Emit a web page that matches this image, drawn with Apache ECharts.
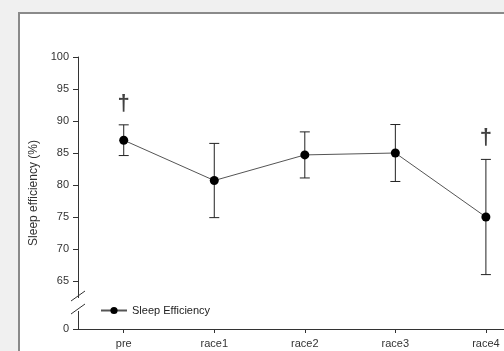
<!DOCTYPE html>
<html>
<head>
<meta charset="utf-8">
<script src="https://cdn.jsdelivr.net/npm/echarts@6/dist/echarts.min.js"></script>
<style>
html,body{margin:0;padding:0;background:#f0f0f0;}
#c{width:504px;height:351px;}
</style>
</head>
<body>
<div id="c"></div>
<script>
const categories = ['pre', 'race1', 'race2', 'race3', 'race4'];
const meanValues = [87.0, 80.7, 84.7, 85.0, 75.0];
const errorValues = [2.4, 5.8, 3.6, 4.45, 9.0];
const daggerPoints = [[0, 92.6], [4, 87.4]];
const yTickValues = [57.5, 65, 70, 75, 80, 85, 90, 95, 100];
const yBreakValue = 57.5;
const xIndexValues = categories.map((c, i) => i);

const chart = echarts.init(document.getElementById('c'), null, {renderer: 'canvas'});
const font = 'Liberation Sans, Arial, sans-serif';

const lineData = meanValues.map((v, i) => [i, v]);
const errData = categories.map((c, i) => [i, meanValues[i] - errorValues[i], meanValues[i] + errorValues[i]]);

chart.setOption({
  animation: false,
  backgroundColor: '#f0f0f0',
  textStyle: {fontFamily: font},
  grid: {left: 78, right: 0, top: 57, bottom: 22, containLabel: false},
  legend: {
    data: ['Sleep Efficiency'],
    left: 95, top: 300,
    itemWidth: 26, itemHeight: 9, itemGap: 6,
    textStyle: {fontSize: 11, color: '#222', fontFamily: font}
  },
  xAxis: {
    type: 'value',
    min: -0.505, max: 4.2,
    splitLine: {show: false},
    axisLine: {onZero: false, lineStyle: {color: '#333', width: 1}},
    axisTick: {length: 4, customValues: xIndexValues, lineStyle: {color: '#333'}},
    axisLabel: {
      fontSize: 11, color: '#333', margin: 9, fontFamily: font,
      customValues: xIndexValues,
      formatter: v => categories[Math.round(v)]
    }
  },
  yAxis: {
    type: 'value',
    min: yBreakValue, max: 100,
    name: 'Sleep efficiency (%)',
    nameLocation: 'middle',
    nameGap: 38,
    nameRotate: 90,
    nameTextStyle: {fontSize: 12, color: '#333', fontFamily: font},
    splitLine: {show: false},
    axisLine: {show: true, onZero: false, lineStyle: {color: '#333', width: 1}},
    axisTick: {show: true, length: 5, customValues: yTickValues, lineStyle: {color: '#333'}},
    axisLabel: {
      fontSize: 11, color: '#333', margin: 9, fontFamily: font,
      customValues: yTickValues,
      formatter: v => (v === yBreakValue ? '0' : String(v))
    }
  },
  series: [
    {
      name: 'Sleep Efficiency',
      type: 'line',
      data: lineData,
      symbol: 'circle',
      symbolSize: 9,
      itemStyle: {color: '#000'},
      lineStyle: {color: '#555', width: 1},
      clip: false,
      z: 3
    },
    {
      name: 'err',
      type: 'custom',
      data: errData,
      clip: false,
      z: 2,
      renderItem: function (params, api) {
        const x = api.value(0);
        const lo = api.coord([x, api.value(1)]);
        const hi = api.coord([x, api.value(2)]);
        const w = 5;
        const st = {stroke: '#222', lineWidth: 1};
        return {
          type: 'group',
          children: [
            {type: 'line', shape: {x1: hi[0], y1: hi[1], x2: lo[0], y2: lo[1]}, style: st},
            {type: 'line', shape: {x1: hi[0] - w, y1: hi[1], x2: hi[0] + w, y2: hi[1]}, style: st},
            {type: 'line', shape: {x1: lo[0] - w, y1: lo[1], x2: lo[0] + w, y2: lo[1]}, style: st}
          ]
        };
      }
    },
    {
      name: 'dagger',
      type: 'scatter',
      data: daggerPoints,
      symbolSize: 1,
      clip: false,
      itemStyle: {color: 'rgba(0,0,0,0)'},
      label: {
        show: true, position: 'inside', formatter: '\u2020',
        fontSize: 22, fontWeight: 'bold', color: '#111', fontFamily: font
      }
    }
  ]
});

function drawDecor() {
  const top = chart.convertToPixel({yAxisIndex: 0}, 62.5);
  const bot = chart.convertToPixel({yAxisIndex: 0}, 60.0);
  const ax = 78;
  chart.setOption({
    graphic: [
      {type: 'rect', z: -10, shape: {x: 19, y: 13, width: 520, height: 360},
       style: {fill: '#fff', stroke: '#8a8a8a', lineWidth: 2}},
      {type: 'rect', z: 100, shape: {x: ax - 2, y: top + 1, width: 4, height: bot - top - 3},
       style: {fill: '#fff'}},
      {type: 'line', z: 101, shape: {x1: ax - 7, y1: top + 4, x2: ax + 7, y2: top - 6},
       style: {stroke: '#333', lineWidth: 1}},
      {type: 'line', z: 101, shape: {x1: ax - 7, y1: bot + 1, x2: ax + 7, y2: bot - 9},
       style: {stroke: '#333', lineWidth: 1}}
    ]
  });
}
drawDecor();
</script>
</body>
</html>
